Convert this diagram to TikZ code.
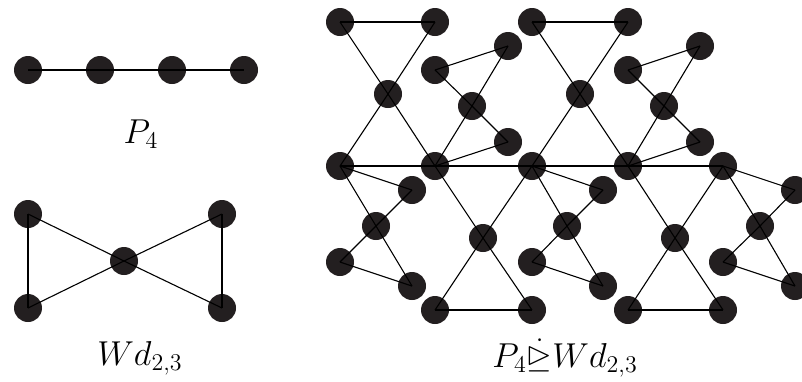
\documentclass[tikz,border=0pt]{standalone}
\usepackage{amsmath, amssymb}
\usepackage{tikz}
\usetikzlibrary{positioning}

\definecolor{vfill}{RGB}{35,31,32}

\begin{document}
\begin{tikzpicture}[
  v/.style={circle, fill=vfill, minimum size=14pt, inner sep=0pt},
  e/.style={line width=0.55pt},
  lab/.style={font=\fontsize{16.5pt}{20pt}\selectfont},
  x=0.5pt, y=-0.5pt]
  \useasboundingbox (0,0) rectangle (802,381);

  % the path P_4
  \foreach \i/\x in {1/28, 2/100, 3/172, 4/244}
    \node[v] (p\i) at (\x,70) {};
  \draw[e] (p1.center) -- (p2.center) -- (p3.center) -- (p4.center);
  \node[lab] (lp) at (141,134) {$P_4$};

  % the windmill Wd_{2,3}
  \node[v] (w0) at (124,261) {};
  \node[v] (w1) at (28,214)  {};
  \node[v] (w2) at (28,308)  {};
  \node[v] (w3) at (222,214) {};
  \node[v] (w4) at (222,308) {};
  \foreach \u/\w in {w1/w2, w1/w0, w2/w0, w3/w4, w3/w0, w4/w0}
    \draw[e] (\u.center) -- (\w.center);
  \node[lab] (lw) at (140,358) {$W d_{2,3}$};

  % the product: spine
  \foreach \i/\x in {1/340, 2/435, 3/532, 4/628, 5/723}
    \node[v] (s\i) at (\x,166) {};
  % copies above the spine
  \node[v] (a0) at (388,94)  {};
  \node[v] (a1) at (340,22)  {};
  \node[v] (a2) at (435,22)  {};
  \node[v] (b0) at (472,106) {};
  \node[v] (b1) at (435,70)  {};
  \node[v] (b2) at (508,46)  {};
  \node[v] (b3) at (508,142) {};
  \node[v] (c0) at (580,94)  {};
  \node[v] (c1) at (532,22)  {};
  \node[v] (c2) at (628,22)  {};
  \node[v] (d0) at (664,106) {};
  \node[v] (d1) at (628,70)  {};
  \node[v] (d2) at (700,46)  {};
  \node[v] (d3) at (700,142) {};
  % copies below the spine
  \node[v] (e0) at (376,226) {};
  \node[v] (e1) at (412,190) {};
  \node[v] (e2) at (340,262) {};
  \node[v] (e3) at (412,286) {};
  \node[v] (f0) at (483,238) {};
  \node[v] (f1) at (435,310) {};
  \node[v] (f2) at (532,310) {};
  \node[v] (g0) at (567,226) {};
  \node[v] (g1) at (603,190) {};
  \node[v] (g2) at (532,262) {};
  \node[v] (g3) at (603,286) {};
  \node[v] (h0) at (675,238) {};
  \node[v] (h1) at (628,310) {};
  \node[v] (h2) at (723,310) {};
  \node[v] (i0) at (760,226) {};
  \node[v] (i1) at (795,190) {};
  \node[v] (i2) at (723,262) {};
  \node[v] (i3) at (795,286) {};

  \draw[e] (s1.center) -- (s2.center) -- (s3.center) -- (s4.center) -- (s5.center);
  \foreach \u/\w in {a1/a2, a1/a0, a2/a0, a0/s1, a0/s2,
                     b1/b2, b1/b0, b2/b0, b0/b3, b0/s2, b3/s2,
                     c1/c2, c1/c0, c2/c0, c0/s3, c0/s4,
                     d1/d2, d1/d0, d2/d0, d0/d3, d0/s4, d3/s4,
                     s1/e1, s1/e0, e1/e0, e0/e2, e0/e3, e2/e3,
                     s2/f0, s3/f0, f0/f1, f0/f2, f1/f2,
                     s3/g1, s3/g0, g1/g0, g0/g2, g0/g3, g2/g3,
                     s4/h0, s5/h0, h0/h1, h0/h2, h1/h2,
                     s5/i1, s5/i0, i1/i0, i0/i2, i0/i3, i2/i3}
    \draw[e] (\u.center) -- (\w.center);
  \node[lab] (lpw) at (565,358) {$P_4\dot{\trianglerighteq}W d_{2,3}$};
\end{tikzpicture}
\end{document}
